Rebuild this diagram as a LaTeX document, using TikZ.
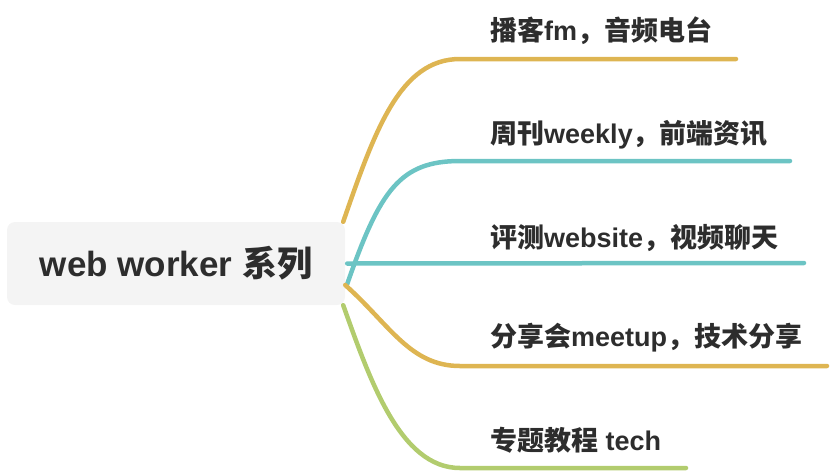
\documentclass[tikz,border=0pt]{standalone}
\usepackage{fontspec}
\setmainfont{Liberation Sans}
\newfontfamily\cjk{Noto Sans CJK SC}
\usepackage{xcolor}
\definecolor{mapgold}{RGB}{222,181,82}
\definecolor{mapteal}{RGB}{108,196,196}
\definecolor{mapgreen}{RGB}{178,204,110}
\definecolor{maptext}{RGB}{45,45,45}
\definecolor{maproot}{RGB}{244,244,244}

\begin{document}
\begin{tikzpicture}[x=1pt, y=-1pt,
    root/.style={rectangle, rounded corners=8pt, fill=maproot, minimum width=338pt,
                 minimum height=83pt, font=\fontsize{35}{40}\selectfont\bfseries, text=maptext},
    leaf/.style={anchor=west, inner sep=0pt, font=\fontsize{27}{32}\selectfont\bfseries, text=maptext},
    branch/.style={line width=4.5pt, line cap=round},
]
    \useasboundingbox (0,0) rectangle (832,472);

    \node[root] (root) at (176,263.5) {web worker {\cjk 系列}};

    \node[leaf] (fm)      at (490,31)    {{\cjk 播客}fm{\cjk ，音频电台}};
    \node[leaf] (weekly)  at (490,134.5) {{\cjk 周刊}weekly{\cjk ，前端资讯}};
    \node[leaf] (website) at (490,238)   {{\cjk 评测}website{\cjk ，视频聊天}};
    \node[leaf] (meetup)  at (490,338)   {{\cjk 分享会}meetup{\cjk ，技术分享}};
    \node[leaf] (tech)    at (490,440)   {{\cjk 专题教程} tech};

    % line ends under the labels
    \coordinate (fmend)      at (736,59);
    \coordinate (weeklyend)  at (790,161);
    \coordinate (websiteend) at (804,263);
    \coordinate (meetupend)  at (827,366);
    \coordinate (techend)    at (686,468);

    \draw[branch, mapgold]  ([xshift=-2pt]root.north east) .. controls (375,130) and (400,59) .. (460,59) -- (fmend);
    \draw[branch, mapteal]  ([shift={(2pt,-20.5pt)}]root.east) .. controls (380,190) and (400,161) .. (460,161) -- (weeklyend);
    \draw[branch, mapteal]  ([xshift=2pt]root.east) -- (websiteend);
    \draw[branch, mapgold]  ([yshift=-21.5pt]root.east) .. controls (390,325) and (410,366) .. (460,366) -- (meetupend);
    \draw[branch, mapgreen] ([xshift=-2pt]root.south east) .. controls (370,380) and (400,468) .. (460,468) -- (techend);
\end{tikzpicture}
\end{document}
